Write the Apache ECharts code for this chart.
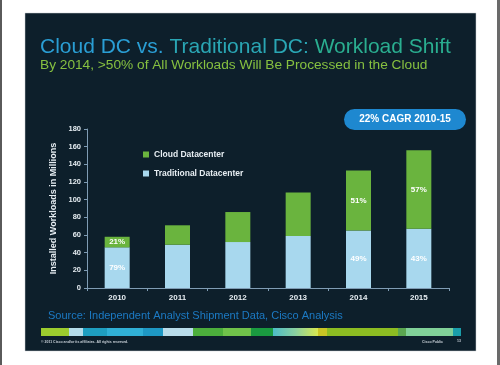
<!DOCTYPE html>
<html><head><meta charset="utf-8">
<script src="https://cdn.jsdelivr.net/npm/echarts@6/dist/echarts.min.js"></script>
<style>html,body{margin:0;padding:0;background:#fff;}#c{width:500px;height:365px;}</style>
</head><body><div id="c"></div>
<script>
var years = ['2010','2011','2012','2013','2014','2015'];
var traditional = [46, 49, 52, 59, 65, 67];
var cloud = [12, 22, 34, 49, 68, 89];
var cloudPct = ['21%','','','','51%','57%'];
var tradPct = ['79%','','','','49%','43%'];
var yTicks = [0,20,40,60,80,100,120,140,160,180];

var stripe = [
  [41,69,'#9ccc2e'],[69,83,'#b4dcea'],[83,107,'#1e9ec0'],[107,143,'#30b0d6'],
  [143,163,'#1e98c4'],[163,193,'#b8dcea'],[193,223,'#4cae3c'],[223,251,'#70c24a'],
  [251,273,'#1a9a40'],[273,318,'grad'],[318,327,'#c8c424'],[327,398,'#8cbc22'],
  [398,406,'#5aa650'],[406,453,'#80d098'],[453,461,'#1a9eaa']
];
var graphics = [
  {type:'rect',shape:{x:0,y:0,width:2,height:365},style:{fill:'#5a5a5a'},silent:true},
  {type:'rect',shape:{x:497,y:0,width:3,height:365},style:{fill:'#6a6a6a'},silent:true},
  {type:'rect',z:-10,shape:{x:25,y:13,width:451,height:338},style:{fill:'#0d1f2b',stroke:'#c8ccd0',lineWidth:0.5},silent:true},
  {type:'text',left:40,top:37,style:{
    text:'{a|Cloud DC vs. }{b|Traditional DC: }{c|Workload Shift}',
    rich:{
      a:{font:'21px "Liberation Sans", Arial',fill:'#2a9ed4'},
      b:{font:'21px "Liberation Sans", Arial',fill:'#2aa6b4'},
      c:{font:'21px "Liberation Sans", Arial',fill:'#2aae90'}
    }}},
  {type:'text',left:40,top:58,style:{text:'By 2014, >50% of All Workloads Will Be Processed in the Cloud',font:'13.7px "Liberation Sans", Arial',fill:'#86c040'}},
  {type:'rect',shape:{x:344,y:109,width:122,height:21,r:10.5},style:{fill:'#1e88d0'}},
  {type:'text',x:405,y:119.5,style:{text:'22% CAGR 2010-15',font:'bold 10px "Liberation Sans", Arial',fill:'#ffffff',align:'center',verticalAlign:'middle'}},
  {type:'text',left:48,top:310,style:{text:'Source: Independent Analyst Shipment Data, Cisco Analysis',font:'11px "Liberation Sans", Arial',fill:'#1c7ac4'}},
  {type:'text',x:41,y:342,style:{text:'© 2011 Cisco and/or its affiliates. All rights reserved.',font:'bold 3.5px Arial',fill:'#c8d0d8',verticalAlign:'middle'}},
  {type:'text',x:422,y:342,style:{text:'Cisco Public',font:'bold 3.5px Arial',fill:'#c8d0d8',verticalAlign:'middle'}},
  {type:'text',x:457,y:341,style:{text:'13',font:'bold 3.5px Arial',fill:'#c8d0d8',verticalAlign:'middle'}}
];
stripe.forEach(function(s){
  var fill = s[2]==='grad' ? new echarts.graphic.LinearGradient(0,0,1,0,[{offset:0,color:'#4cbcc8'},{offset:0.5,color:'#8ad0a0'},{offset:1,color:'#d8e850'}]) : s[2];
  graphics.push({type:'rect',shape:{x:s[0],y:328,width:s[1]-s[0],height:8},style:{fill:fill},silent:true});
});

var chart = echarts.init(document.getElementById('c'));
var txt = '#e6edf2';
chart.setOption({
  animation:false,
  backgroundColor:'#ffffff',
  graphic:graphics,
  legend:{
    orient:'vertical', left:138, top:145, itemWidth:6, itemHeight:6, itemGap:10,
    icon:'rect', data:['Cloud Datacenter','Traditional Datacenter'],
    textStyle:{color:txt,fontWeight:'bold',fontSize:8.5,fontFamily:'"Liberation Sans", Arial'}
  },
  grid:{left:87,right:51,top:129,bottom:77},
  xAxis:{
    type:'category', data:years,
    axisLine:{lineStyle:{color:'#7f9cb4',width:1}},
    axisTick:{show:true,length:3,lineStyle:{color:'#7f9cb4'}},
    axisLabel:{color:txt,fontWeight:'bold',fontSize:8,margin:6,fontFamily:'"Liberation Sans", Arial'}
  },
  yAxis:{
    type:'value', min:0, max:180, interval:20,
    name:'Installed Workloads in Millions', nameLocation:'middle', nameGap:22, nameRotate:90,
    nameTextStyle:{color:txt,fontWeight:'bold',fontSize:9,fontFamily:'"Liberation Sans", Arial'},
    axisLine:{show:true,lineStyle:{color:'#7f9cb4'}},
    axisTick:{show:true,length:3,lineStyle:{color:'#7f9cb4'}},
    splitLine:{show:false},
    axisLabel:{color:txt,fontWeight:'bold',fontSize:7.5,margin:6,fontFamily:'"Liberation Sans", Arial',
      formatter:function(v){return yTicks.indexOf(v)>=0?String(v):'';}}
  },
  series:[
    {name:'Traditional Datacenter',type:'bar',stack:'a',data:traditional,barWidth:25,
      itemStyle:{color:'#a8d8ee'},
      label:{show:true,position:'inside',color:'#ffffff',fontWeight:'bold',fontSize:8,
        formatter:function(p){return tradPct[p.dataIndex];}}},
    {name:'Cloud Datacenter',type:'bar',stack:'a',data:cloud,barWidth:25,
      itemStyle:{color:'#6ab43e'},
      label:{show:true,position:'inside',color:'#ffffff',fontWeight:'bold',fontSize:8,
        formatter:function(p){return cloudPct[p.dataIndex];}}}
  ]
});
</script></body></html>
